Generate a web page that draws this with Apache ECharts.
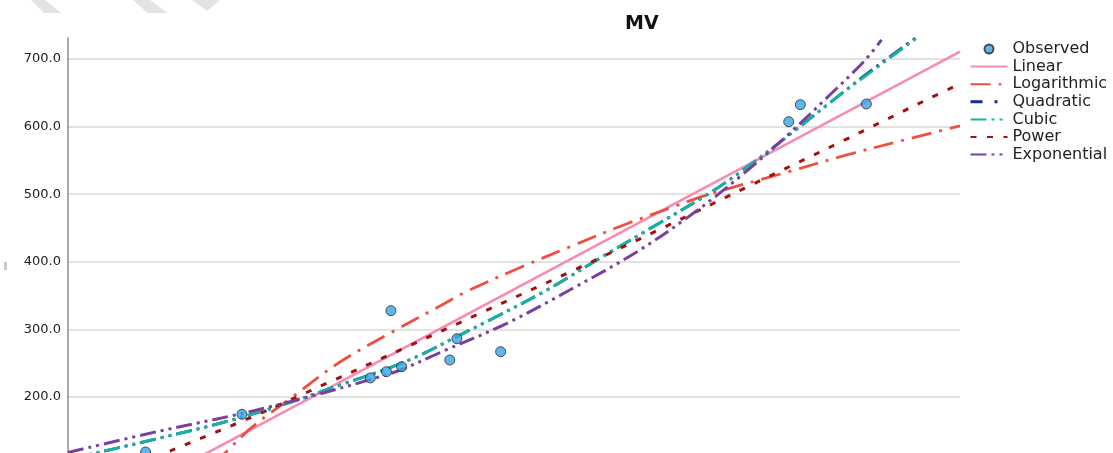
<!DOCTYPE html>
<html>
<head>
<meta charset="utf-8">
<title>MV</title>
<script src="https://cdn.jsdelivr.net/npm/echarts@6/dist/echarts.min.js"></script>
<style>
  html, body { margin: 0; padding: 0; background: #ffffff; }
  #chart { width: 1113px; height: 453px; }
</style>
</head>
<body>
<div id="chart"></div>
<script>
// Observed cases: [x, MV]
const observed = [
  [8.7, 118.6], [19.5, 174.4], [33.9, 228.1], [35.7, 237.4], [36.2, 327.7],
  [37.4, 244.8], [42.8, 254.7], [43.6, 286.2], [48.5, 267.0],
  [80.8, 607.2], [82.1, 632.4], [89.5, 633.4]
];

// Fitted curves, sampled along x
const linearFit = [[12.6, 96.2], [100, 710.8]];

const logarithmicFit = [
  [16.3, 100.0], [17.6, 117.2], [20.7, 156.1], [25.2, 200.4], [30.5, 251.8],
  [36.4, 296.6], [41.7, 334.6], [44.7, 356.1], [50.5, 390.4], [56.3, 422.3],
  [62.3, 454.4], [67.9, 481.5], [71.6, 498.8], [80.8, 533.3], [86.9, 556.5],
  [93.3, 578.7], [100, 600.9]
];

const quadraticFit = [
  [0, 108.3], [3.6, 118.6], [10.3, 139.3], [17.8, 163.8], [25.2, 193.3],
  [30.5, 217.8], [35.7, 241.4], [39.5, 262.1], [43.5, 288.8], [47.3, 313.9],
  [53.7, 358.3], [59.3, 402.7], [65.6, 451.9], [71.6, 498.8], [75.7, 535.8],
  [81.1, 590.1], [85.8, 639.3], [90.2, 684.5], [95.0, 731.0]
];

const cubicFit = [
  [0, 108.3], [3.6, 118.6], [10.3, 139.3], [17.8, 163.8], [25.2, 193.3],
  [30.5, 217.8], [35.7, 241.4], [39.5, 262.1], [43.5, 288.8], [47.3, 313.9],
  [53.7, 358.3], [59.3, 402.7], [65.6, 451.9], [71.6, 498.8], [75.7, 535.8],
  [81.1, 590.1], [85.8, 639.3], [90.3, 683.7], [95.1, 730.6]
];

const powerFit = [
  [8.0, 100.0], [12.0, 123.1], [20.7, 170.9], [29.4, 222.6], [37.8, 272.9],
  [46.2, 323.8], [56.5, 386.4], [66.6, 449.6], [76.6, 513.6], [86.7, 577.7],
  [96.6, 641.9], [100, 663.0]
];

const exponentialFit = [
  [0, 117.9], [10.3, 149.7], [19.5, 175.6], [27.1, 200.7], [33.9, 225.9],
  [37.4, 240.7], [41.7, 265.8], [49.2, 309.0], [56.6, 360.8], [63.8, 414.9],
  [70.1, 471.7], [75.7, 529.9], [80.9, 590.1], [85.4, 646.7], [89.2, 696.0],
  [91.2, 728.1]
];

const yTicks = { min: 100, max: 731, step: 100 };
const legendNames = ['Observed', 'Linear', 'Logarithmic', 'Quadratic', 'Cubic', 'Power', 'Exponential'];

const FONT = 'DejaVu Sans';
const dashDotDot = [16, 5, 3, 5, 3, 5];

function fitLine(name, data, color, type, width) {
  return {
    name: name,
    type: 'line',
    data: data,
    smooth: 0.35,
    symbol: 'none',
    clip: true,
    lineStyle: { color: color, width: width, type: type, cap: 'butt' },
    itemStyle: { color: color },
    emphasis: { disabled: true },
    z: 2
  };
}

const chart = echarts.init(document.getElementById('chart'), null, { renderer: 'canvas' });

chart.setOption({
  animation: false,
  backgroundColor: '#ffffff',
  textStyle: { fontFamily: FONT },
  title: {
    text: 'MV',
    left: 620,
    top: 10,
    textStyle: { fontFamily: FONT, fontSize: 19, fontWeight: 'bold', color: '#111111' }
  },
  legend: {
    orient: 'vertical',
    left: 969,
    top: 41,
    itemWidth: 37,
    itemHeight: 9,
    itemGap: 1.6,
    padding: 0,
    selectedMode: false,
    textStyle: { fontFamily: FONT, fontSize: 16, color: '#222222' },
    data: legendNames.map(function (n) {
      if (n === 'Observed') {
        return { name: n };
      }
      // line-only swatches: hide the marker drawn on the legend line
      const item = { name: n, itemStyle: { opacity: 0, borderWidth: 0 } };
      if (n === 'Quadratic') {
        item.lineStyle = { type: [12, 12, 3, 10], width: 3, color: '#1b2f8a' };
      }
      return item;
    })
  },
  grid: {
    left: 68,
    top: 38,
    width: 892,
    height: 426.6,
    containLabel: false,
    outerBoundsMode: 'none'
  },
  xAxis: {
    type: 'value',
    min: 0,
    max: 100,
    show: false,
    splitLine: { show: false }
  },
  yAxis: {
    type: 'value',
    min: yTicks.min,
    max: yTicks.max,
    interval: yTicks.step,
    axisLine: { show: true, lineStyle: { color: '#8a8a8a', width: 1.5 } },
    axisTick: { show: false },
    axisLabel: {
      showMaxLabel: false,
      margin: 7,
      fontFamily: FONT,
      fontSize: 13,
      color: '#222222',
      formatter: function (v) { return v.toFixed(1); }
    },
    splitLine: {
      show: true,
      showMaxLine: false,
      lineStyle: { color: '#d8d8d8', width: 1.5 }
    }
  },
  graphic: [
    { type: 'polygon', silent: true, z: -1, shape: { points: [[31, 0], [45, 0], [61, 13], [44, 13]] }, style: { fill: '#e3e3e3' } },
    { type: 'polygon', silent: true, z: -1, shape: { points: [[133, 0], [150, 0], [167, 13], [148, 13]] }, style: { fill: '#e3e3e3' } },
    { type: 'polygon', silent: true, z: -1, shape: { points: [[192, 0], [220, 0], [207, 11]] }, style: { fill: '#e3e3e3' } },
    { type: 'rect', silent: true, shape: { x: 4, y: 262, width: 3, height: 8 }, style: { fill: '#c9c9c9' } }
  ],
  series: [
    {
      name: 'Observed',
      type: 'scatter',
      data: observed,
      symbol: 'circle',
      symbolSize: 10,
      itemStyle: { color: '#3aa2e8', borderColor: '#2a2a2a', borderWidth: 1 },
      emphasis: { disabled: true },
      z: 5
    },
    fitLine('Linear', linearFit, '#f88bb3', 'solid', 2.6),
    fitLine('Logarithmic', logarithmicFit, '#ee5040', [20, 8, 3, 8], 2.8),
    fitLine('Quadratic', quadraticFit, '#1b2f8a', dashDotDot, 2.8),
    fitLine('Cubic', cubicFit, '#19b2a0', dashDotDot, 3),
    fitLine('Power', powerFit, '#a3100f', [6, 10.5], 3),
    fitLine('Exponential', exponentialFit, '#7b3f9e', dashDotDot, 3)
  ]
});
</script>
</body>
</html>
